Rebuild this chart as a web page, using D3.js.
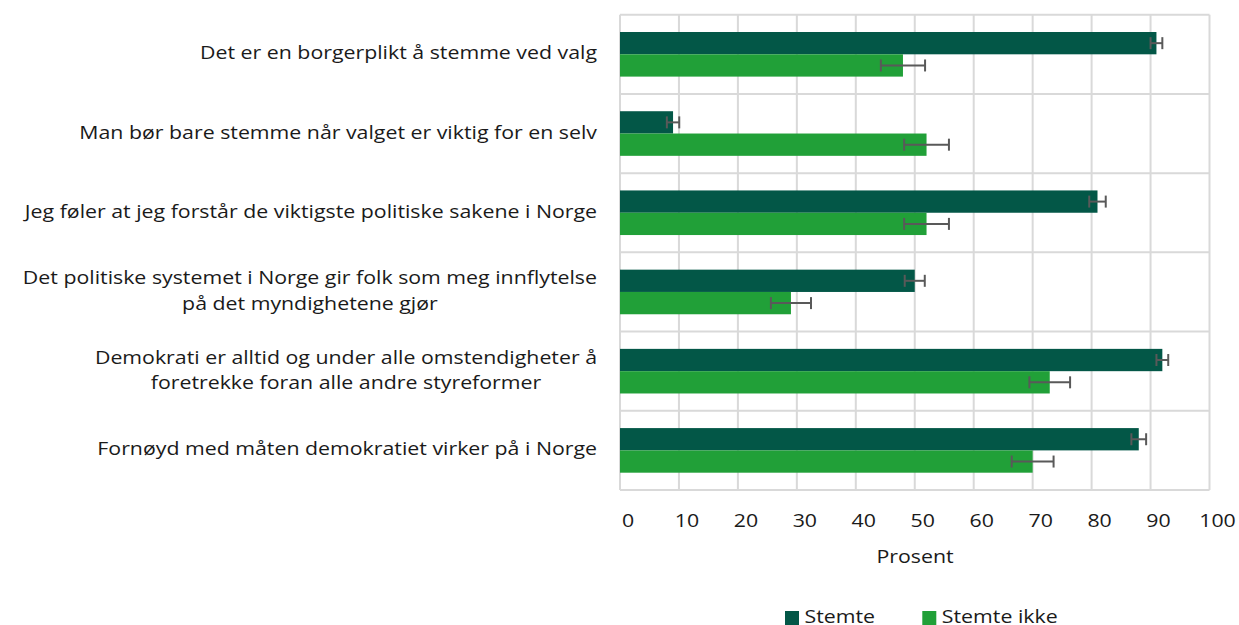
<!DOCTYPE html>
<html>
<head>
<meta charset="utf-8">
<script src="https://cdn.jsdelivr.net/npm/d3@7"></script>
<style>
  body { margin: 0; background: #fff; }
  text { font-family: "Open Sans", sans-serif; fill: #1a1a1a; }
</style>
</head>
<body>
<div id="chart"></div>
<script>
var categories = [
    ["Det er en borgerplikt å stemme ved valg"],
    ["Man bør bare stemme når valget er viktig for en selv"],
    ["Jeg føler at jeg forstår de viktigste politiske sakene i Norge"],
    ["Det politiske systemet i Norge gir folk som meg innflytelse", "på det myndighetene gjør"],
    ["Demokrati er alltid og under alle omstendigheter å", "foretrekke foran alle andre styreformer"],
    ["Fornøyd med måten demokratiet virker på i Norge"]
]
var seriesNames = ["Stemte", "Stemte ikke"]
var stemte = [91, 9, 81, 50, 92, 88]
var stemteErr = [1, 1.05, 1.4, 1.7, 1, 1.25]
var stemteIkke = [48, 52, 52, 29, 72.9, 70]
var stemteIkkeErr = [3.75, 3.8, 3.8, 3.4, 3.45, 3.55]
var ticks = [0, 10, 20, 30, 40, 50, 60, 70, 80, 90, 100]
var colors = ["#035747", "#21a038"]

var width = 1239,
    height = 625,
    fontSize = 18,
    stretch = 1.185;   // text in the original is drawn a bit wide

var svg = d3.select("#chart")
    .append("svg")
    .attr("width", width)
    .attr("height", height)

var x = d3.scaleLinear().domain([0, 100]).range([620, 1209.5])

var y = d3.scaleBand()
    .domain(d3.range(categories.length))
    .range([14.7, 490])

var ySub = d3.scaleBand()
    .domain(seriesNames)
    .range([0, y.bandwidth()])
    .paddingOuter(0.776)

var rows = categories.map(function (c, i) {
    return {
        i: i,
        lines: c,
        vals: [
            { name: seriesNames[0], v: stemte[i], e: stemteErr[i] },
            { name: seriesNames[1], v: stemteIkke[i], e: stemteIkkeErr[i] }
        ]
    }
})

// put a stretched text group at x,y
function wideText(parent, px, py) {
    return parent.append("g")
        .attr("transform", "translate(" + px + "," + py + ") scale(" + stretch + ",1)")
        .append("text")
        .attr("font-size", fontSize)
}

// grid
var grid = svg.append("g")
grid.selectAll(".vline")
    .data(ticks)
    .enter().append("line")
    .attr("x1", function (d) { return x(d) })
    .attr("x2", function (d) { return x(d) })
    .attr("y1", 14.7)
    .attr("y2", 490)
    .attr("stroke", "#d9d9d9")
    .attr("stroke-width", 2)

grid.selectAll(".hline")
    .data(d3.range(categories.length + 1))
    .enter().append("line")
    .attr("x1", x(0))
    .attr("x2", x(100))
    .attr("y1", function (d) { return 14.7 + d * y.step() })
    .attr("y2", function (d) { return 14.7 + d * y.step() })
    .attr("stroke", "#d9d9d9")
    .attr("stroke-width", 2)

var groups = svg.selectAll(".row")
    .data(rows)
    .enter().append("g")
    .attr("transform", function (d) { return "translate(0," + y(d.i) + ")" })

groups.selectAll("rect")
    .data(function (d) { return d.vals })
    .enter().append("rect")
    .attr("x", x(0))
    .attr("y", function (d) { return ySub(d.name) })
    .attr("width", function (d) { return x(d.v) - x(0) })
    .attr("height", ySub.bandwidth())
    .attr("fill", function (d, i) { return colors[i] })

// error bars
var err = groups.selectAll(".err")
    .data(function (d) { return d.vals })
    .enter().append("g")
    .attr("stroke", "#595959")
    .attr("stroke-width", 2)

err.append("line")
    .attr("x1", function (d) { return x(d.v - d.e) })
    .attr("x2", function (d) { return x(d.v + d.e) })
    .attr("y1", function (d) { return ySub(d.name) + ySub.bandwidth() / 2 })
    .attr("y2", function (d) { return ySub(d.name) + ySub.bandwidth() / 2 })

err.selectAll(".cap")
    .data(function (d) { return [d.v - d.e, d.v + d.e].map(function (v) { return { v: v, name: d.name } }) })
    .enter().append("line")
    .attr("x1", function (d) { return x(d.v) })
    .attr("x2", function (d) { return x(d.v) })
    .attr("y1", function (d) { return ySub(d.name) + ySub.bandwidth() / 2 - 6 })
    .attr("y2", function (d) { return ySub(d.name) + ySub.bandwidth() / 2 + 6 })

// category labels: block right aligned, lines centred in the block
groups.each(function (d) {
    var t = wideText(d3.select(this), 597, y.bandwidth() / 2)
        .attr("text-anchor", "middle")
    var n = d.lines.length
    var spans = d.lines.map(function (line, k) {
        return t.append("tspan")
            .attr("y", (k - (n - 1) / 2) * 25.5 + 5.1)
            .text(line)
    })
    var w = d3.max(spans, function (s) { return s.node().getComputedTextLength() })
    spans.forEach(function (s) { s.attr("x", -w / 2) })
})

// x axis labels
var tickG = svg.append("g")
ticks.forEach(function (d) {
    wideText(tickG, x(d) + 8, 521)
        .attr("dy", "0.35em")
        .attr("text-anchor", "middle")
        .text(d)
})

wideText(svg, 915, 557)
    .attr("dy", "0.35em")
    .attr("text-anchor", "middle")
    .text("Prosent")

// legend
var legendX = [785, 922.3]
seriesNames.forEach(function (name, i) {
    var g = svg.append("g")
        .attr("transform", "translate(" + legendX[i] + ",611)")
    g.append("rect")
        .attr("width", 14)
        .attr("height", 14)
        .attr("fill", colors[i])
    wideText(g, 19.5, 12)
        .text(name)
})
</script>
</body>
</html>
